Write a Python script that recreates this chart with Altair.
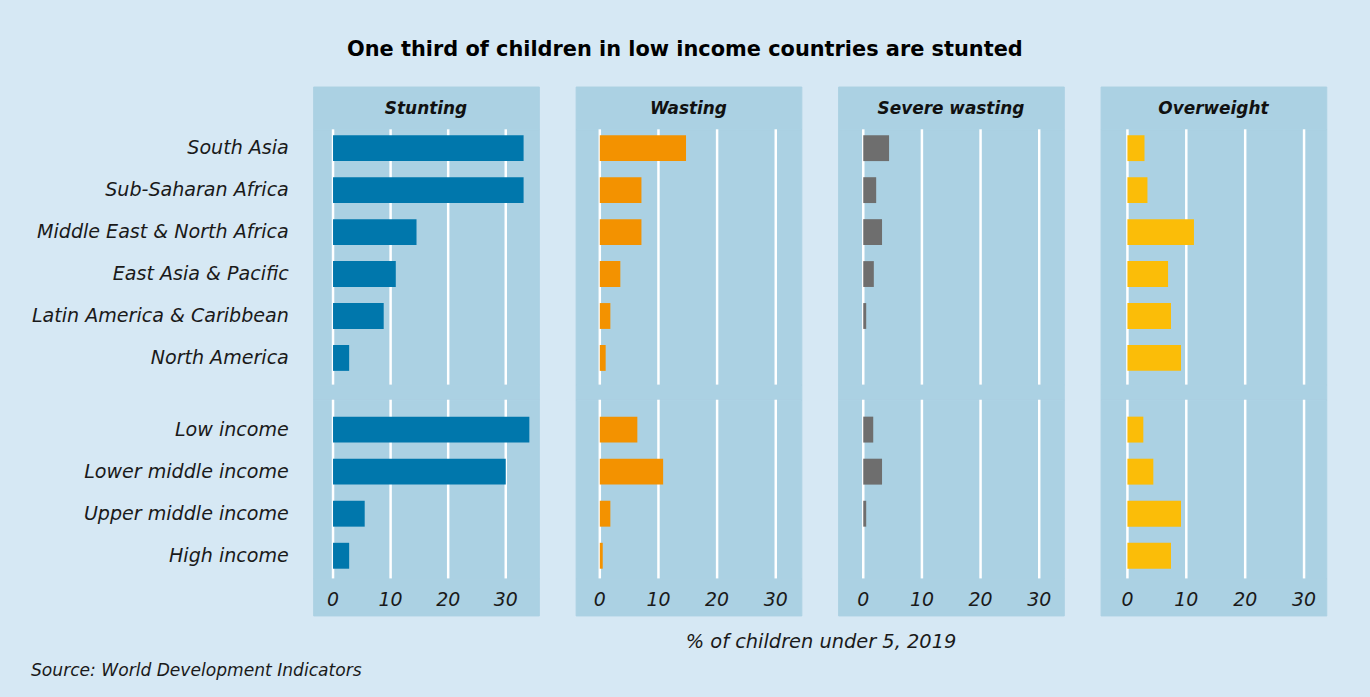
import altair as alt
import pandas as pd

# ---- data ----
regions = ["South Asia", "Sub-Saharan Africa", "Middle East & North Africa",
           "East Asia & Pacific", "Latin America & Caribbean", "North America"]
incomes = ["Low income", "Lower middle income", "Upper middle income", "High income"]
indicators = ["Stunting", "Wasting", "Severe wasting", "Overweight"]
colors = ["#0077ac", "#f39200", "#6e6e6e", "#fbbd08"]

stunting_regions = [33.1, 33.1, 14.5, 10.9, 8.8, 2.8]
stunting_income = [34.1, 30.0, 5.5, 2.8]
wasting_regions = [14.7, 7.1, 7.1, 3.5, 1.8, 1.0]
wasting_income = [6.4, 10.8, 1.8, 0.5]
severe_regions = [4.4, 2.2, 3.2, 1.8, 0.5, None]
severe_income = [1.7, 3.2, 0.5, None]
overweight_regions = [2.9, 3.4, 11.3, 6.9, 7.4, 9.1]
overweight_income = [2.7, 4.4, 9.1, 7.4]
tick_values = [0, 10, 20, 30]

series = {
    "Stunting": (stunting_regions, stunting_income),
    "Wasting": (wasting_regions, wasting_income),
    "Severe wasting": (severe_regions, severe_income),
    "Overweight": (overweight_regions, overweight_income),
}
rows = []
for ind in indicators:
    reg_vals, inc_vals = series[ind]
    for c, v in zip(regions, reg_vals):
        rows.append({"indicator": ind, "country": c, "value": v})
    for c, v in zip(incomes, inc_vals):
        rows.append({"indicator": ind, "country": c, "value": v})
df = pd.DataFrame(rows)
ticks_df = pd.DataFrame({"v": tick_values})

# ---- style / layout ----
BG = "#d6e8f4"
PANEL = "#abd1e3"
FONT = "DejaVu Sans"
TXT = "#1a1a1a"
W = 227
# x-range shown in each panel (panel box extends a little beyond 0 and 30)
x_domains = [[-3.45, 35.75], [-4.12, 34.36], [-4.29, 34.19], [-4.56, 33.77]]


def xscale(dom):
    return alt.Scale(domain=dom, nice=False, zero=False)


def head(ind):
    return alt.Chart(pd.DataFrame({"t": [ind]})).mark_text(
        font=FONT, fontSize=17, fontWeight="bold", fontStyle="italic", color="#111111"
    ).encode(x=alt.value(W / 2), y=alt.value(23), text="t:N").properties(width=W, height=43)


def group(ind, color, dom, cats, height, pad_outer, align, show_labels):
    d = df[(df.indicator == ind) & (df.country.isin(cats))]
    if show_labels:
        yaxis = alt.Axis(title=None, domain=False, ticks=False, labelFont=FONT,
                         labelFontSize=19.2, labelFontStyle="italic", labelColor=TXT,
                         labelPadding=25, labelLimit=500)
    else:
        yaxis = None
    grid = alt.Chart(ticks_df).mark_rule(color="white", strokeWidth=2.5).encode(
        x=alt.X("v:Q", scale=xscale(dom), axis=None))
    bars = alt.Chart(d).mark_bar(color=color).encode(
        x=alt.X("value:Q", scale=xscale(dom), axis=None),
        y=alt.Y("country:N", sort=cats,
                scale=alt.Scale(domain=cats, paddingInner=0.384, paddingOuter=pad_outer, align=align),
                axis=yaxis),
    )
    return alt.layer(grid, bars).properties(width=W, height=height)


def spacer():
    return alt.Chart(pd.DataFrame({"t": [""]})).mark_text(fontSize=1).encode(
        x=alt.value(W / 2), y=alt.value(7), text="t:N").properties(width=W, height=15)


def foot(dom):
    return alt.Chart(ticks_df).mark_text(
        font=FONT, fontSize=19, fontStyle="italic", color=TXT
    ).encode(x=alt.X("v:Q", scale=xscale(dom), axis=None), y=alt.value(22), text="v:Q"
             ).properties(width=W, height=37)


cols = []
for i, (ind, col, dom) in enumerate(zip(indicators, colors, x_domains)):
    show = i == 0
    cols.append(alt.vconcat(
        head(ind),
        group(ind, col, dom, regions, 257, 0.237, 0.3, show),
        spacer(),
        group(ind, col, dom, incomes, 180, 0.32, 0.63, show),
        foot(dom),
        spacing=0,
        bounds="flush",
    ))

hc = alt.hconcat(*cols, spacing=35).properties(
    title=alt.TitleParams("% of children under 5, 2019", orient="bottom", anchor="middle",
                          dx=143, offset=17, font=FONT, fontSize=19.5, fontStyle="italic",
                          fontWeight="normal", color=TXT))

mid = alt.vconcat(hc).properties(
    title=alt.TitleParams("Source: World Development Indicators", orient="bottom", anchor="start",
                          offset=11, font=FONT, fontSize=17.2, fontStyle="italic",
                          fontWeight="normal", color=TXT))

chart = alt.vconcat(mid).properties(
    title=alt.TitleParams("One third of children in low income countries are stunted",
                          anchor="middle", dx=6, offset=26, font=FONT, fontSize=21,
                          fontWeight="bold", color="#000000"),
    padding={"left": 31, "top": 37, "right": 43, "bottom": 16},
    background=BG,
).configure_view(fill=PANEL, stroke=PANEL, strokeWidth=1)

chart.save("out.html", embed_options={"renderer": "svg", "actions": False})
